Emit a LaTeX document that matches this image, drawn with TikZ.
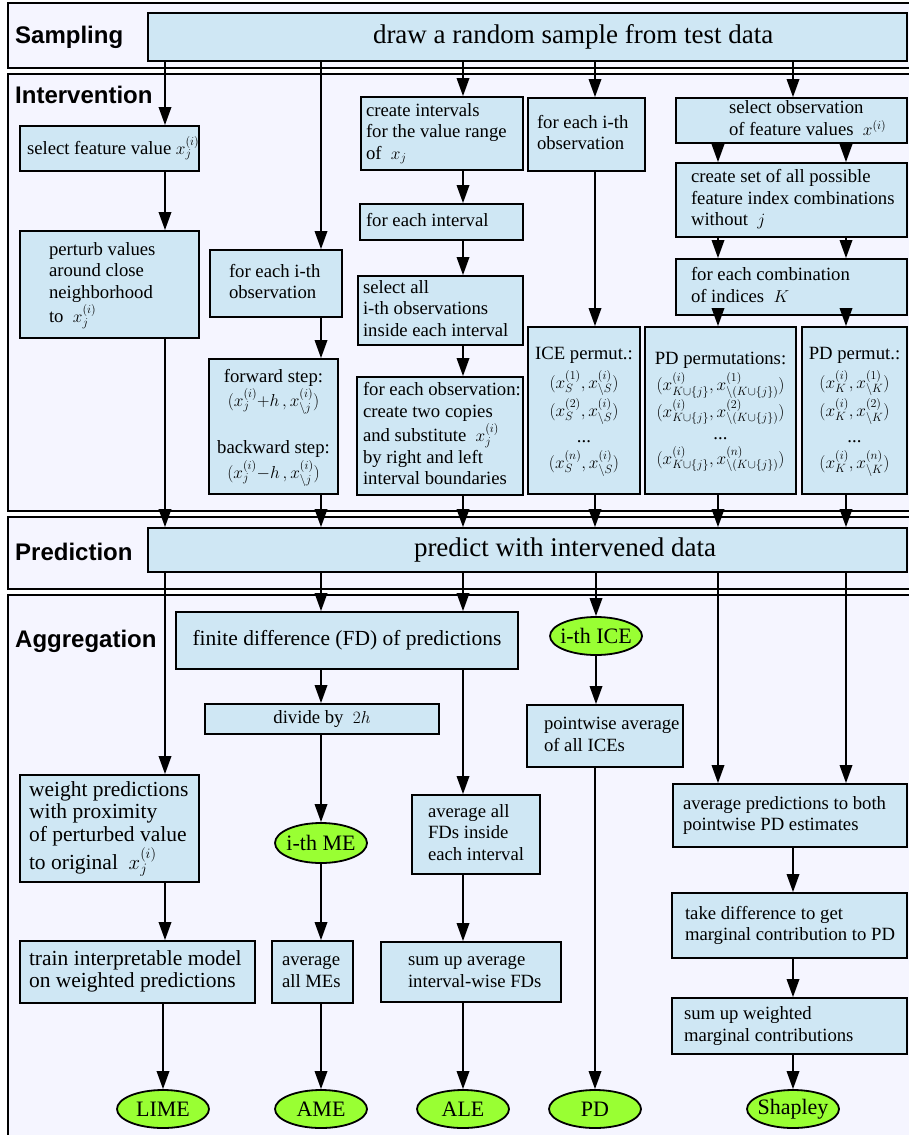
\documentclass[tikz,border=0pt]{standalone}
\usepackage{fontspec}
\setmainfont{Liberation Serif}
\setsansfont{Liberation Sans}
\usetikzlibrary{arrows.meta,shapes.geometric}
\definecolor{boxblue}{RGB}{207,231,244}
\definecolor{framebg}{RGB}{245,245,255}
\definecolor{ellgreen}{RGB}{153,255,51}
\newcommand{\fA}{\fontsize{18.7}{21.5}\selectfont}
\newcommand{\fB}{\fontsize{21.5}{22.5}\selectfont}
\newcommand{\fC}{\fontsize{27}{30}\selectfont}
\newcommand{\fE}{\fontsize{22}{24}\selectfont}
\newcommand{\fL}{\sffamily\bfseries\fontsize{24}{26}\selectfont}
\newcommand{\bxl}[3]{\makebox[#1pt][l]{\hspace*{#2pt}\begin{tabular}{@{}l@{}}#3\end{tabular}}}
\newcommand{\bxc}[2]{\makebox[#1pt][c]{\begin{tabular}{@{}c@{}}#2\end{tabular}}}
\begin{document}
\begin{tikzpicture}[x=1pt,y=-1pt,
 box/.style={draw=black, fill=boxblue, line width=1.8pt, inner sep=0pt, font=\fA},
 ell/.style={ellipse, draw=black, fill=ellgreen, line width=1.8pt, inner sep=0pt, minimum width=92pt, minimum height=38pt, font=\fE},
 arr/.style={-{Triangle[length=18pt,width=12.5pt]}, line width=1.8pt},
 frame/.style={draw=black, fill=framebg, line width=1.8pt},
 lab/.style={anchor=base west, inner sep=0pt, font=\fL}]
\useasboundingbox (0,0) rectangle (909,1135);
\fill[white] (0,0) rectangle (909,1135);
% frames
\path[frame] (8,3) rectangle (930,68);
\path[frame] (8,74) rectangle (930,511);
\path[frame] (8,517) rectangle (930,589);
\path[frame] (8,595) rectangle (930,1150);
% labels
\node[lab] (lsamp) at (15,43) {Sampling};
\node[lab] (lint) at (15,103) {Intervention};
\node[lab] (lpred) at (15,560) {Prediction};
\node[lab] (lagg) at (15,647) {Aggregation};
% columns
\coordinate (c1) at (165,0);
\coordinate (c2) at (321,0);
\coordinate (c3) at (463,0);
\coordinate (c4) at (595,0);
\coordinate (c5) at (718,0);
\coordinate (c6) at (846,0);
\coordinate (c7) at (793,0);
% sampling and prediction
\node[box, minimum height=48pt, font=\fC] (samp) at (527.5,37) {\bxl{759}{225}{draw a random sample from test data}};
\node[box, minimum height=44pt, font=\fC] (pred) at (527.5,550) {\bxl{759}{266}{predict with intervened data}};
% intervention
\node[box, minimum height=45pt] (sel) at (109.5,148.5) {\bxl{179}{7}{select feature value $x_j^{(i)}$}};
\node[box, minimum height=107pt] (pert) at (109.5,284.5) {\bxl{179}{29}{perturb values\\around close\\neighborhood\\to\ \ $x_j^{(i)}$}};
\node[box, minimum height=67pt] (obs2) at (276,283.5) {\bxl{132}{19}{for each i-th\\observation}};
\node[box, minimum height=135pt] (steps) at (273.5,426.5) {\bxc{129}{forward step:\\ $\bigl(x_j^{(i)}{+}h\,, x_{\setminus j}^{(i)}\bigr)$\\[26pt] backward step:\\ $\bigl(x_j^{(i)}{-}h\,, x_{\setminus j}^{(i)}\bigr)$}};
\node[box, minimum height=73pt] (intv) at (442,133.5) {\bxl{162}{5}{create intervals\\for the value range\\of\ \ $x_j$}};
\node[box, minimum height=36pt] (eachint) at (441.5,222) {\bxl{163}{6}{for each interval}};
\node[box, minimum height=69pt] (selall) at (440.5,310.5) {\bxl{165}{5}{select all\\i-th observations\\inside each interval}};
\node[box, minimum height=118pt] (eachobs) at (440,436) {\bxl{166}{6}{for each observation:\\create two copies\\and substitute\ \ $x_j^{(i)}$\\by right and left\\interval boundaries}};
\node[box, minimum height=73pt] (obs4) at (586.5,134.5) {\bxl{117}{9}{for each i-th\\observation}};
\node[box, minimum height=167pt] (ice) at (584,410.5) {\bxc{112}{ICE permut.:\\[4pt] $\bigl(x_S^{(1)},x_{\setminus S}^{(i)}\bigr)$\\[4pt] $\bigl(x_S^{(2)},x_{\setminus S}^{(i)}\bigr)$\\[4pt] ...\\[2pt] $\bigl(x_S^{(n)},x_{\setminus S}^{(i)}\bigr)$}};
\node[box, minimum height=167pt] (pdperm) at (720.5,410.5) {\bxc{151}{PD permutations:\\[2pt] $\bigl(x_{K\cup\{j\}}^{(i)},x_{\setminus(K\cup\{j\})}^{(1)}\bigr)$\\[2pt] $\bigl(x_{K\cup\{j\}}^{(i)},x_{\setminus(K\cup\{j\})}^{(2)}\bigr)$\\ ...\\ $\bigl(x_{K\cup\{j\}}^{(i)},x_{\setminus(K\cup\{j\})}^{(n)}\bigr)$}};
\node[box, minimum height=167pt] (pdp2) at (854.5,410.5) {\bxc{105}{PD permut.:\\[4pt] $\bigl(x_K^{(i)},x_{\setminus K}^{(1)}\bigr)$\\[4pt] $\bigl(x_K^{(i)},x_{\setminus K}^{(2)}\bigr)$\\[4pt] ...\\[2pt] $\bigl(x_K^{(i)},x_{\setminus K}^{(n)}\bigr)$}};
\node[box, minimum height=45pt] (selobs) at (791.5,120.5) {\bxl{231}{53}{select observation\\of feature values\ \ $x^{(i)}$}};
\node[box, minimum height=74pt] (cset) at (791.5,200) {\bxl{231}{15}{create set of all possible\\feature index combinations\\without\ \ $j$}};
\node[box, minimum height=56pt] (comb) at (791.5,287) {\bxl{231}{15}{for each combination\\of indices\ \ $K$}};
% aggregation
\node[box, minimum height=57pt, font=\fB] (fd) at (347,640.5) {\bxc{342}{finite difference (FD) of predictions}};
\node[box, minimum height=30pt] (div) at (322,719) {\bxc{234}{divide by\ \ $2h$}};
\node[box, minimum height=107pt, font=\fB] (weight) at (109.5,828.5) {\bxl{179}{9}{weight predictions\\with proximity\\of perturbed value\\to original\ \ $x_j^{(i)}$}};
\node[box, minimum height=62pt, font=\fB] (train) at (137.5,972) {\bxl{235}{9}{train interpretable model\\on weighted predictions}};
\node[box, minimum height=62pt] (avgme) at (312.5,972) {\bxl{81}{10}{average\\all MEs}};
\node[box, minimum height=79pt] (avgfd) at (476,834.5) {\bxl{128}{16}{average all\\FDs inside\\each interval}};
\node[box, minimum height=60pt] (sumfd) at (471,972) {\bxl{180}{27}{sum up average\\interval-wise FDs}};
\node[box, minimum height=62pt] (pwavg) at (605,736) {\bxl{156}{17}{pointwise average\\of all ICEs}};
\node[box, minimum height=63pt] (avgpred) at (790,815.5) {\bxl{234}{10}{average predictions to both\\pointwise PD estimates}};
\node[box, minimum height=65pt] (tdiff) at (789.5,925.5) {\bxl{235}{13}{take difference to get\\marginal contribution to PD}};
\node[box, minimum height=56pt] (sumw) at (789.5,1026) {\bxl{235}{12}{sum up weighted\\marginal contributions}};
% ellipses
\node[ell] (icee) at (596,636) {\makebox[0pt]{i-th ICE}};
\node[ell, minimum height=40pt] (me) at (321,843) {\makebox[0pt]{i-th ME}};
\node[ell] (lime) at (163,1109) {\makebox[0pt]{LIME}};
\node[ell] (ame) at (321,1109) {\makebox[0pt]{AME}};
\node[ell] (ale) at (463,1109) {\makebox[0pt]{ALE}};
\node[ell] (pd) at (595,1109) {\makebox[0pt]{PD}};
\node[ell] (shap) at (793,1109) {\makebox[0pt]{Shapley}};
% arrows: sampling -> intervention
\draw[arr] (samp.south -| c1) -- (sel.north -| c1);
\draw[arr] (samp.south -| c2) -- (obs2.north -| c2);
\draw[arr] (samp.south -| c3) -- (intv.north -| c3);
\draw[arr] (samp.south -| c4) -- (obs4.north -| c4);
\draw[arr] (samp.south -| c7) -- (selobs.north -| c7);
% intervention
\draw[arr] (sel.south -| c1) -- (pert.north -| c1);
\draw[arr] (pert.south -| c1) -- (pred.north -| c1);
\draw[arr] (obs2.south -| c2) -- (steps.north -| c2);
\draw[arr] (steps.south -| c2) -- (pred.north -| c2);
\draw[arr] (intv.south -| c3) -- (eachint.north -| c3);
\draw[arr] (eachint.south -| c3) -- (selall.north -| c3);
\draw[arr] (selall.south -| c3) -- (eachobs.north -| c3);
\draw[arr] (eachobs.south -| c3) -- (pred.north -| c3);
\draw[arr] (obs4.south -| c4) -- (ice.north -| c4);
\draw[arr] (ice.south -| c4) -- (pred.north -| c4);
\draw[arr] (selobs.south -| c5) -- (cset.north -| c5);
\draw[arr] (selobs.south -| c6) -- (cset.north -| c6);
\draw[arr] (cset.south -| c5) -- (comb.north -| c5);
\draw[arr] (cset.south -| c6) -- (comb.north -| c6);
\draw[arr] (comb.south -| c5) -- (pdperm.north -| c5);
\draw[arr] (comb.south -| c6) -- (pdp2.north -| c6);
\draw[arr] (pdperm.south -| c5) -- (pred.north -| c5);
\draw[arr] (pdp2.south -| c6) -- (pred.north -| c6);
% aggregation
\draw[arr] (pred.south -| c1) -- (weight.north -| c1);
\draw[arr] (weight.south -| c1) -- (train.north -| c1);
\draw[arr] (train.south -| lime.north) -- (lime.north);
\draw[arr] (pred.south -| c2) -- (fd.north -| c2);
\draw[arr] (pred.south -| c3) -- (fd.north -| c3);
\draw[arr] (fd.south -| c2) -- (div.north -| c2);
\draw[arr] (div.south -| me.north) -- (me.north);
\draw[arr] (me.south) -- (avgme.north -| me.south);
\draw[arr] (avgme.south -| ame.north) -- (ame.north);
\draw[arr] (fd.south -| c3) -- (avgfd.north -| c3);
\draw[arr] (avgfd.south -| c3) -- (sumfd.north -| c3);
\draw[arr] (sumfd.south -| ale.north) -- (ale.north);
\draw[arr] (pred.south -| icee.north) -- (icee.north);
\draw[arr] (icee.south) -- (pwavg.north -| icee.south);
\draw[arr] (pwavg.south -| pd.north) -- (pd.north);
\draw[arr] (pred.south -| c5) -- (avgpred.north -| c5);
\draw[arr] (pred.south -| c6) -- (avgpred.north -| c6);
\draw[arr] (avgpred.south -| c7) -- (tdiff.north -| c7);
\draw[arr] (tdiff.south -| c7) -- (sumw.north -| c7);
\draw[arr] (sumw.south -| shap.north) -- (shap.north);
\end{tikzpicture}
\end{document}
